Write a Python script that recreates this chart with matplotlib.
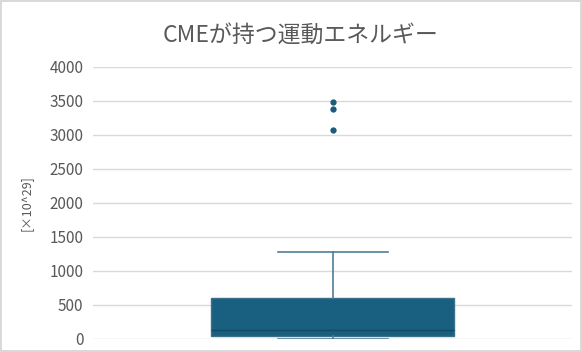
import matplotlib
matplotlib.use("Agg")
import matplotlib.pyplot as plt

plt.rcParams['font.family'] = ['Noto Sans CJK JP', 'DejaVu Sans']

# box statistics (units of 10^29)
q1 = 49
median = 130
q3 = 607
whisker_low = 4
whisker_high = 1284
outliers = [3490, 3380, 3075]

title = "CMEが持つ運動エネルギー"
ylabel = "[×10^29]"
yticks = [0, 500, 1000, 1500, 2000, 2500, 3000, 3500, 4000]

stats = [dict(q1=q1, med=median, q3=q3, whislo=whisker_low,
              whishi=whisker_high, fliers=outliers)]

fig = plt.figure(figsize=(5.82, 3.52), dpi=100)
fig.patch.set_edgecolor("#d9d9d9")
fig.patch.set_linewidth(1.5)
ax = fig.add_axes([0.16, 0.037, 0.823, 0.773])

ax.bxp(stats, positions=[0], widths=0.507, patch_artist=True,
       boxprops=dict(facecolor="#185f80", edgecolor="#3d6f8a", linewidth=1),
       medianprops=dict(color="#124a65", linewidth=1),
       whiskerprops=dict(color="#4e7f98", linewidth=1.2),
       capprops=dict(color="#4e7f98", linewidth=1.2),
       flierprops=dict(marker="o", markersize=3.5, markerfacecolor="#1b5a7a",
                       markeredgecolor="#1b5a7a"),
       capwidths=0.23)

ax.set_xlim(-0.5, 0.5)
ax.set_ylim(0, 4000)
ax.set_yticks(yticks)
ax.set_xticks([])
ax.grid(axis="y", color="#d9d9d9", linewidth=1)
ax.set_axisbelow(True)
for s in ax.spines.values():
    s.set_visible(False)
ax.tick_params(axis="y", length=0, labelsize=11, labelcolor="#595959", pad=7)

fig.text(0.516, 0.9, title, fontsize=16.5, color="#595959",
         ha="center", va="center")
ax.set_ylabel(ylabel, fontsize=9, color="#595959", labelpad=12)

fig.savefig("out.png", dpi=100)
